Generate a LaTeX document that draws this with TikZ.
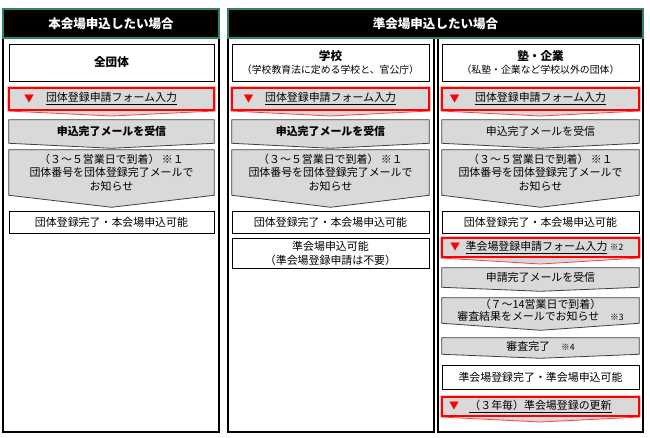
\documentclass[tikz,border=0pt]{standalone}
\usepackage{fontspec}
\setmainfont{Noto Sans CJK JP}
\usetikzlibrary{calc,backgrounds}
\definecolor{boxgray}{RGB}{217,217,217}
\definecolor{hdgreen}{RGB}{49,133,94}
\definecolor{edgegray}{RGB}{64,64,64}
\tikzstyle{panel}=[draw=black, line width=1.1pt, fill=white]
\tikzstyle{header}=[fill=black, draw=hdgreen, line width=0.9pt, text=white, inner sep=0pt, font=\fontsize{9.4}{11}\selectfont\bfseries]
\tikzstyle{whitebox}=[draw=black, line width=0.75pt, fill=white, inner sep=0pt, align=center, font=\fontsize{8.2}{10.3}\selectfont]
\tikzstyle{graybox}=[inner sep=0pt, align=center, font=\fontsize{8.2}{10.1}\selectfont]
\tikzstyle{formbox}=[draw=red, line width=1.5pt, inner sep=0pt, font=\fontsize{8.2}{10}\selectfont]
\tikzstyle{chevgray}=[fill=boxgray, draw=edgegray, line width=0.6pt]
\tikzstyle{chevred}=[fill=boxgray, draw=red!75, line width=0.6pt]
\tikzstyle{tri}=[text=red, inner sep=0pt, font=\fontsize{7.5}{8}\selectfont]
\tikzset{wh/.style 2 args={minimum width=#1*0.75pt, minimum height=#2*0.75pt}}
\newcommand\chev[3]{\path[#3] (#1.north west) -- (#1.north east) -- (#1.south east) -- ($(#1.south)+(0,#2)$) -- (#1.south west) -- cycle;}
\newcommand\smallnote[1]{{\fontsize{6.5}{8}\selectfont #1}}
\begin{document}
\begin{tikzpicture}[x=0.75pt, y=-0.75pt]
    \useasboundingbox (0,0) rectangle (650,437);

    \begin{scope}[on background layer]
        \draw[panel] (3,38) rectangle (219,432);
        \draw[panel] (228,38) rectangle (434,432);
        \draw[panel] (438,38) rectangle (643,432);
    \end{scope}

    \node[header, wh={216}{29}] (hmain) at (111,23.5) {本会場申込したい場合};
    \node[header, wh={415}{29}] (hsub) at (435.5,23.5) {準会場申込したい場合};

    \node[whitebox, wh={205}{37}, font=\fontsize{8.7}{10}\selectfont\bfseries] (a1) at (111.5,62.5) {全団体};
    \node[whitebox, wh={197}{37}] (b1) at (330.5,62.5) {{\bfseries\fontsize{8.7}{10}\selectfont 学校}\\\fontsize{7.4}{9}\selectfont （学校教育法に定める学校と、官公庁）};
    \node[whitebox, wh={197}{37}] (c1) at (540.5,62.5) {{\bfseries\fontsize{8.7}{10}\selectfont 塾・企業}\\\fontsize{7.4}{9}\selectfont （私塾・企業など学校以外の団体）};

    \foreach \x/\w/\c/\t/\f in {111.5/205/a/21/\bfseries, 330.5/197/b/17.5/\bfseries, 540.5/197/c/13.5/\mdseries} {
        \node[formbox, wh={\w}{22}] (\c2) at (\x,99) {\underline{団体登録申請フォーム入力}};
        \node[tri] (\c2t) at ($(\c2.west)+(\t,0)$) {▼};
        \node[graybox, wh={\w}{23}] (\c3) at (\x,131.5) {\f 申込完了メールを受信};
        \node[graybox, wh={\w}{45}] (\c4) at (\x,172.5) {（３～５営業日で到着） ※１\\団体番号を団体登録完了メールで\\お知らせ};
        \node[whitebox, wh={\w}{22}] (\c5) at (\x,222) {団体登録完了・本会場申込可能};
    }

    \node[whitebox, wh={197}{30}, font=\fontsize{8.2}{10.5}\selectfont] (b6) at (330.5,253) {準会場申込可能\\（準会場登録申請は不要）};

    \node[formbox, wh={197}{19}] (c6) at (540.5,247.5) {\hspace*{6pt}\underline{準会場登録申請フォーム入力} \smallnote{※2}};
    \node[tri] (c6t) at ($(c6.west)+(14,0)$) {▼};
    \node[graybox, wh={197}{19}] (c7) at (540.5,277.5) {申請完了メールを受信};
    \node[graybox, wh={197}{25}, font=\fontsize{8.2}{9}\selectfont] (c8) at (540.5,310.5) {（７～14営業日で到着）\\審査結果をメールでお知らせ　\smallnote{※3}};
    \node[graybox, wh={197}{16}] (c9) at (540.5,346) {審査完了　\smallnote{※4}};
    \node[whitebox, wh={197}{24}] (c10) at (540.5,377) {準会場登録完了・準会場申込可能};
    \node[formbox, wh={197}{19}] (c11) at (540.5,406.5) {\underline{（３年毎）準会場登録の更新}};
    \node[tri] (c11t) at ($(c11.west)+(13,0)$) {▼};

    \begin{scope}[on background layer]
        \foreach \c in {a,b,c} {
            \chev{\c2}{5}{chevred}
            \chev{\c3}{5}{chevgray}
            \chev{\c4}{12}{chevgray}
        }
        \chev{c6}{6}{chevred}
        \chev{c7}{4}{chevgray}
        \chev{c8}{7}{chevgray}
        \chev{c9}{4}{chevgray}
        \chev{c11}{5}{chevred}
    \end{scope}

\end{tikzpicture}
\end{document}
